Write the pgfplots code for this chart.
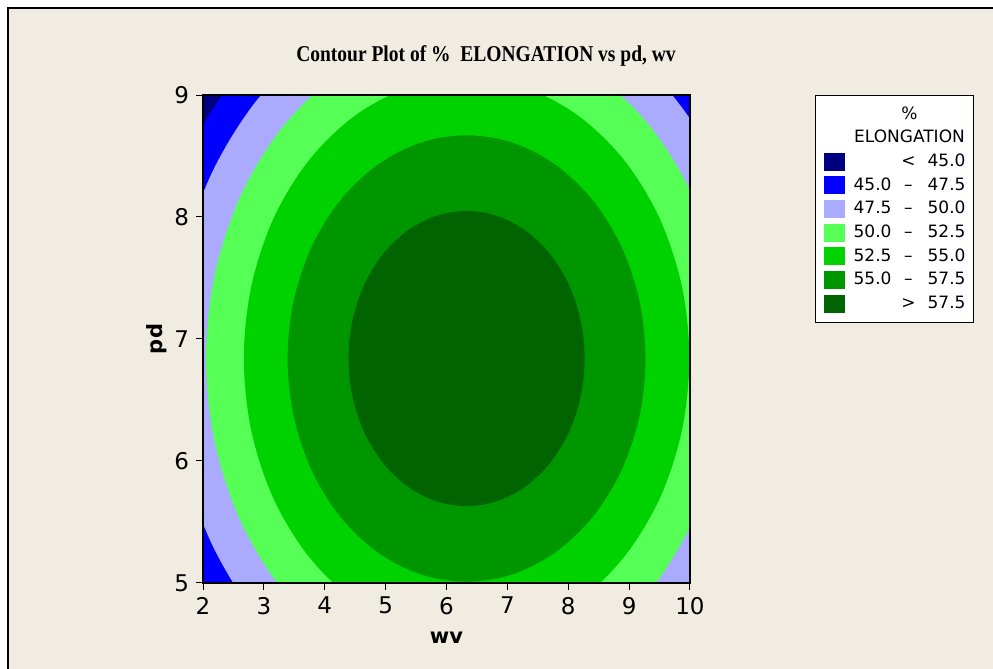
\documentclass[border=0pt]{standalone}
\usepackage{fontspec}
\setmainfont{DejaVu Sans}
\newfontfamily\titlefont{Liberation Serif}
\usepackage{graphicx}
\usepackage{pgfplots}
\pgfplotsset{compat=1.18}
\definecolor{cbg}{RGB}{240,236,226}
\definecolor{cA}{RGB}{0,0,128}
\definecolor{cB}{RGB}{0,0,255}
\definecolor{cC}{RGB}{170,170,255}
\definecolor{cD}{RGB}{85,255,85}
\definecolor{cE}{RGB}{0,210,0}
\definecolor{cF}{RGB}{0,150,0}
\definecolor{cG}{RGB}{0,100,0}
\newcommand\lrow[3]{\makebox[19pt][r]{#1}\makebox[17pt][c]{#2}\makebox[20pt][r]{#3}\hspace{7pt}}
\newcommand\lhead[1]{\makebox[56pt][c]{#1}\hspace{7pt}}
\begin{document}
\begin{tikzpicture}
\begin{scope}[x=0.5pt,y=0.5pt]
\useasboundingbox (0,0) rectangle (993,669);
\fill[white] (0,0) rectangle (993,669);
\fill[cbg] (8,0) rectangle (993,661);
\draw[black, line width=0.6pt] (8,0) -- (8,661) -- (993,661);
\node at (486,613.5) {\titlefont\bfseries\scalebox{0.863}[1]{\fontsize{11.3}{13}\selectfont Contour Plot of \%\ \ ELONGATION vs pd, wv}};
\end{scope}
\begin{axis}[
  at={(101.5pt,43pt)}, anchor=south west,
  scale only axis, width=243.5pt, height=244pt,
  xmin=2, xmax=10, ymin=5, ymax=9,
  xtick={2,3,4,5,6,7,8,9,10}, ytick={5,6,7,8,9},
  tick align=outside, major tick length=3.5pt,
  tick style={black, line width=0.5pt},
  xtick pos=bottom, ytick pos=left,
  axis line style={line width=0.75pt},
  axis on top,
  /pgf/number format/assume math mode=true,
  ticklabel style={font=\fontsize{11.5}{13}\selectfont},
  xlabel={wv}, ylabel={pd},
  xlabel style={at={(axis description cs:0.5,-0.1127)}, anchor=center, font=\bfseries\fontsize{10.5}{12}\selectfont},
  ylabel style={at={(axis description cs:-0.0945,0.5)}, anchor=center, font=\bfseries\fontsize{10.5}{12}\selectfont},
  legend style={at={(1.2567,1)}, anchor=north west, draw=black, line width=0.5pt, fill=white,
    font=\fontsize{8.5}{10}\selectfont, inner xsep=4pt, inner ysep=3.5pt, row sep=0pt, column sep=4.5pt,
    nodes={inner sep=0pt, text height=8.4pt, text depth=3.43pt}},
  legend cell align=left,
  legend image code/.code={\fill[#1] (0pt,-4.5pt) rectangle (10.5pt,4.5pt);},
  contour/.style={draw=none, smooth, tension=0.55},
]
\addlegendimage{empty legend}
\addlegendimage{empty legend}
% < 45.0 (background)
\addplot[fill=cA, draw=none] coordinates {(2,5) (10,5) (10,9) (2,9) (2,5)};
% 45.0 contour
\addplot[fill=cB, contour] coordinates {(11.469,5.986) (11.65,6.84) (11.469,7.694) (10.937,8.49) (10.092,9.173) (8.99,9.698) (7.707,10.027) (6.33,10.14) (4.953,10.027) (3.67,9.698) (2.568,9.173) (1.723,8.49) (1.191,7.694) (1.01,6.84) (1.191,5.986) (1.723,5.19) (2.568,4.507) (3.67,3.982) (4.953,3.653) (6.33,3.54) (7.707,3.653) (8.99,3.982) (10.092,4.507) (10.937,5.19) (11.469,5.986) (11.65,6.84) (11.469,7.694)};
% 47.5 contour
\addplot[fill=cC, contour] coordinates {(11.015,6.061) (11.18,6.84) (11.015,7.619) (10.53,8.345) (9.759,8.968) (8.755,9.447) (7.585,9.747) (6.33,9.85) (5.075,9.747) (3.905,9.447) (2.901,8.968) (2.13,8.345) (1.645,7.619) (1.48,6.84) (1.645,6.061) (2.13,5.335) (2.901,4.712) (3.905,4.233) (5.075,3.933) (6.33,3.83) (7.585,3.933) (8.755,4.233) (9.759,4.712) (10.53,5.335) (11.015,6.061) (11.18,6.84) (11.015,7.619)};
% 50.0 contour
\addplot[fill=cD, contour] coordinates {(10.464,6.146) (10.61,6.84) (10.464,7.534) (10.036,8.18) (9.356,8.735) (8.47,9.161) (7.438,9.429) (6.33,9.52) (5.222,9.429) (4.19,9.161) (3.304,8.735) (2.624,8.18) (2.196,7.534) (2.05,6.84) (2.196,6.146) (2.624,5.50) (3.304,4.945) (4.19,4.519) (5.222,4.251) (6.33,4.16) (7.438,4.251) (8.47,4.519) (9.356,4.945) (10.036,5.50) (10.464,6.146) (10.61,6.84) (10.464,7.534)};
% 52.5 contour
\addplot[fill=cE, contour] coordinates {(9.865,6.245) (9.99,6.84) (9.865,7.435) (9.50,7.99) (8.918,8.466) (8.16,8.832) (7.277,9.062) (6.33,9.14) (5.383,9.062) (4.50,8.832) (3.742,8.466) (3.16,7.99) (2.795,7.435) (2.67,6.84) (2.795,6.245) (3.16,5.69) (3.742,5.214) (4.50,4.848) (5.383,4.618) (6.33,4.54) (7.277,4.618) (8.16,4.848) (8.918,5.214) (9.50,5.69) (9.865,6.245) (9.99,6.84) (9.865,7.435)};
% 55.0 contour
\addplot[fill=cF, contour] coordinates {(9.17,6.366) (9.27,6.84) (9.17,7.314) (8.876,7.755) (8.409,8.134) (7.80,8.425) (7.091,8.608) (6.33,8.67) (5.569,8.608) (4.86,8.425) (4.251,8.134) (3.784,7.755) (3.49,7.314) (3.39,6.84) (3.49,6.366) (3.784,5.925) (4.251,5.546) (4.86,5.255) (5.569,5.072) (6.33,5.01) (7.091,5.072) (7.80,5.255) (8.409,5.546) (8.876,5.925) (9.17,6.366) (9.27,6.84) (9.17,7.314)};
% 57.5 contour
\addplot[fill=cG, contour] coordinates {(8.204,6.527) (8.27,6.84) (8.204,7.153) (8.01,7.445) (7.702,7.696) (7.30,7.888) (6.832,8.009) (6.33,8.05) (5.828,8.009) (5.36,7.888) (4.958,7.696) (4.65,7.445) (4.456,7.153) (4.39,6.84) (4.456,6.527) (4.65,6.235) (4.958,5.984) (5.36,5.792) (5.828,5.671) (6.33,5.63) (6.832,5.671) (7.30,5.792) (7.702,5.984) (8.01,6.235) (8.204,6.527) (8.27,6.84) (8.204,7.153)};
\legend{{\lhead{\%}}, {\lhead{ELONGATION}}, {\lrow{}{<}{45.0}}, {\lrow{45.0}{--}{47.5}}, {\lrow{47.5}{--}{50.0}}, {\lrow{50.0}{--}{52.5}}, {\lrow{52.5}{--}{55.0}}, {\lrow{55.0}{--}{57.5}}, {\lrow{}{>}{57.5}}}
\end{axis}
\end{tikzpicture}
\end{document}
